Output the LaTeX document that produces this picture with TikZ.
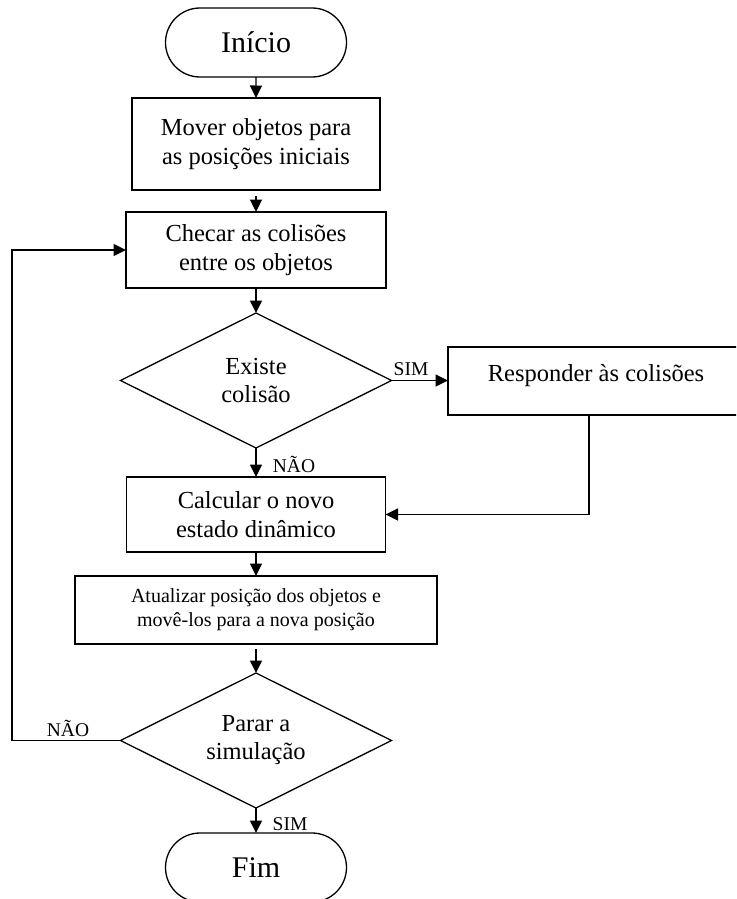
\documentclass[tikz,border=0pt]{standalone}
\usepackage{fontspec}
\setmainfont{Liberation Serif}
\usetikzlibrary{shapes.geometric,shapes.misc,arrows.meta}

\begin{document}
\begin{tikzpicture}[x=1pt,y=-1pt,
  line width=1.3pt,
  every node/.style={inner sep=0pt, outer sep=0pt},
  term/.style={rounded rectangle, draw, minimum width=181pt, minimum height=69pt,
               font=\fontsize{30}{36}\selectfont},
  proc/.style={rectangle, draw, align=center, font=\fontsize{24.5}{29}\selectfont},
  procsmall/.style={proc, font=\fontsize{20}{24}\selectfont},
  decision/.style={diamond, draw, aspect=2, minimum width=271pt, minimum height=135pt,
                   align=center, font=\fontsize{24.5}{28}\selectfont},
  lbl/.style={font=\fontsize{19.5}{23}\selectfont, anchor=base},
  flow/.style={-{Triangle[length=12.5pt,width=12pt]}},
]
\useasboundingbox (0,0) rectangle (736,899);
\clip (0,0) rectangle (736,899);

% steps of the simulation loop
\node[term] (start) at (256,42.5) {Início};
\node[proc, minimum width=248pt, minimum height=92pt] (move) at (256,144)
  {Mover objetos para\\as posições iniciais};
\node[proc, minimum width=260pt, minimum height=76pt] (check) at (256,250)
  {Checar as colisões\\entre os objetos};
\node[decision] (coll) at (256,380.5) {Existe\\colisão};
\node[rectangle, draw, font=\fontsize{24.5}{29}\selectfont, minimum width=296pt,
      minimum height=68pt, text height=17pt, text depth=17pt] (resp) at (596,381)
  {Responder às colisões};
\node[proc, minimum width=259pt, minimum height=75pt] (calc) at (256,514.5)
  {Calcular o novo\\estado dinâmico};
\node[procsmall, minimum width=362pt, minimum height=68pt] (upd) at (256,610)
  {Atualizar posição dos objetos e\\movê-los para a nova posição};
\node[decision] (stop) at (256,740.5) {Parar a\\simulação};
\node[term] (end) at (256,867.5) {Fim};
\coordinate (loop) at (12,740.5);

% connectors
\draw[flow] (start) -- (move);
\draw[flow, shorten <=6pt] (move) -- (check);
\draw[flow] (check) -- (coll);
\draw[flow] (coll.east) -- (coll.east -| resp.west);
\draw[flow] ([xshift=-7pt]resp.south) |- (calc.east);
\draw[flow] (coll) -- (calc);
\draw[flow] (calc) -- (upd);
\draw[flow, shorten <=5pt] (upd) -- (stop);
\draw[flow] (stop.west) -- (loop) |- (check.west);
\draw[flow] (stop) -- (end);

% branch labels
\node[lbl] (simA) at (411,375) {SIM};
\node[lbl] (naoA) at (294,472) {NÃO};
\node[lbl] (naoB) at (68,736) {NÃO};
\node[lbl] (simB) at (290,830) {SIM};
\end{tikzpicture}
\end{document}
